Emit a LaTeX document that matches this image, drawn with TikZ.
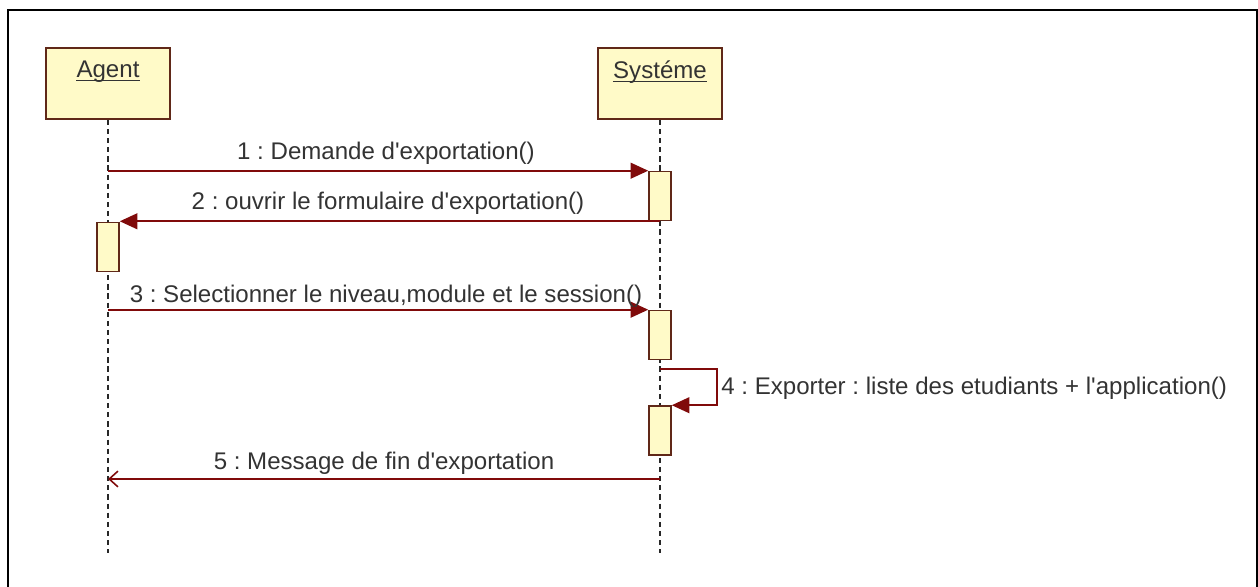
\documentclass[tikz,border=0pt]{standalone}
\usepackage{fontspec}
\setmainfont[Ligatures=TeXOff]{Liberation Sans}
\usetikzlibrary{arrows.meta}
\definecolor{boxfill}{RGB}{255,250,200}
\definecolor{boxline}{RGB}{96,40,24}
\definecolor{msgred}{RGB}{128,10,10}
\definecolor{lifegray}{RGB}{40,40,40}
\tikzset{
  txt/.style={inner sep=0pt,font=\fontsize{13.7}{16}\selectfont\frenchspacing,text=black!80},
  objbox/.style={draw=boxline,fill=boxfill,line width=0.9pt,minimum width=2.48cm,minimum height=1.42cm,inner sep=0pt},
  actbox/.style={draw=boxline,fill=boxfill,line width=0.9pt,minimum width=0.44cm,minimum height=0.98cm,inner sep=0pt},
  lifeline/.style={draw=lifegray,line width=1pt,dash pattern=on 3pt off 2.2pt},
  uline/.style={draw=black!80,line width=0.6pt},
  msg/.style={draw=msgred,line width=0.9pt,-{Triangle[length=10pt,width=9pt]}},
  reply/.style={draw=msgred,line width=0.9pt,-{Straight Barb[length=5pt,width=9pt]}}
}
\begin{document}
\begin{tikzpicture}[x=0.02cm,y=-0.02cm]
\clip (0,0) rectangle (1258,587);
\draw[line width=1.2pt] (8,10) rectangle (1257,620);
%
\node[objbox] (agent) at (108,83.5) {};
\node[txt] (agentname) at (108,72) {Agent};
\draw[uline] ([yshift=-1.6pt]agentname.base west) -- ([yshift=-1.6pt]agentname.base east);
\node[objbox] (sys) at (660,83.5) {};
\node[txt] (sysname) at (660,72) {Systéme};
\draw[uline] ([yshift=-1.6pt]sysname.base west) -- ([yshift=-1.6pt]sysname.base east);
\coordinate (agentend) at (108,553);
\coordinate (sysend) at (660,553);
\draw[lifeline] (agent.south) -- (agentend);
\draw[lifeline] (sys.south) -- (sysend);
%
\node[actbox] (a1) at (660,196) {};
\node[actbox] (a2) at (108,247) {};
\node[actbox] (a3) at (660,335) {};
\node[actbox] (a4) at (660,430.5) {};
%
\draw[msg] (agent.south |- a1.north) -- (a1.north west);
\node[txt] (m1) at (386,153) {1 : Demande d'exportation()};
\draw[msg] (a1.south) -- (a1.south -| a2.east);
\node[txt] (m2) at (388,203) {2 : ouvrir le formulaire d'exportation()};
\draw[msg] (agent.south |- a3.north) -- (a3.north west);
\node[txt] (m3) at (386,296) {3 : Selectionner le niveau,module et le session()};
%
\coordinate (s4) at (660,369);
\draw[msg] (s4) -- ++(57,0) |- (a4.north east);
\node[txt,anchor=west] (m4) at (721,388) {4 : Exporter : liste des etudiants + l'application()};
%
\coordinate (r5) at (660,479);
\draw[reply] (r5) -- (agent.south |- r5);
\node[txt] (m5) at (384,463) {5 : Message de fin d'exportation};
\end{tikzpicture}
\end{document}
